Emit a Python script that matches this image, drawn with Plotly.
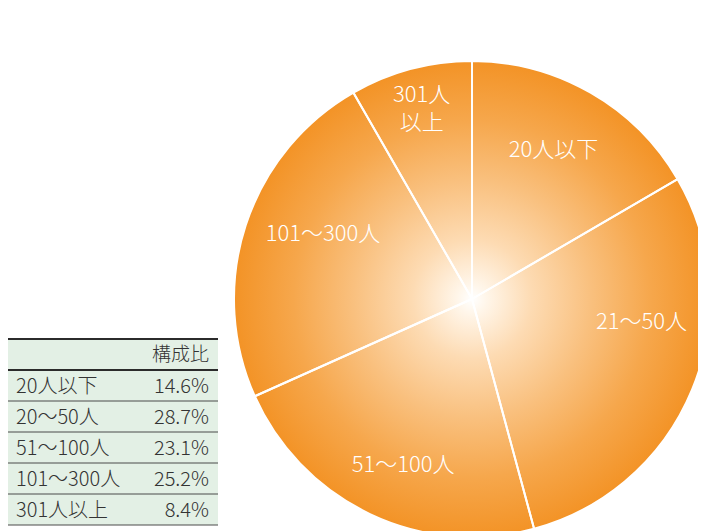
import numpy as np
import plotly.graph_objects as go

# ---------------- data ----------------
pie_labels = ['20人以下', '21～50人', '51～100人', '101～300人', '301人<br>以上']
pie_share = [16.6, 29.2, 22.5, 23.4, 8.3]          # slice sizes as drawn in the picture (%)

table_header = ['', '構成比']
table_categories = ['20人以下', '20～50人', '51～100人', '101～300人', '301人以上']
table_share = [14.6, 28.7, 23.1, 25.2, 8.4]         # 構成比 (%)

# ---------------- style ----------------
W, H = 706, 531
CX, CY, R = 464, 291, 238            # pie centre / radius in figure pixels (CY from top)
FONT = 'Noto Sans CJK JP'
GREEN = '#e3f0e5'
label_r = [0.71, 0.72, 0.76, 0.68, 0.82]          # radial position of labels (fraction of R)
label_dtheta = [-1, -14, -3, 5, 0]                 # angular nudge of labels (deg)
grad = [[0.0, '#ffffff'], [0.06, '#fff6ea'], [0.25, '#fddbb3'],
        [0.5, '#f9c07e'], [0.75, '#f6a74c'], [1.0, '#f39326']]

fig = go.Figure()

# radial gradient disc behind the pie
t = np.linspace(0, 2 * np.pi, 721)
fig.add_trace(go.Scatter(
    x=CX + R * np.cos(t), y=(H - CY) + R * np.sin(t),
    mode='lines', fill='toself', line=dict(width=0),
    fillgradient=dict(type='radial', colorscale=grad),
    hoverinfo='skip', showlegend=False))

# pie slices (transparent fill, white separators)
fig.add_trace(go.Pie(
    values=pie_share, labels=[l.replace('<br>', '') for l in pie_labels],
    sort=False, direction='clockwise', rotation=0,
    marker=dict(colors=['rgba(0,0,0,0)'] * len(pie_share), line=dict(color='white', width=2)),
    textinfo='none', hoverinfo='label+percent', showlegend=False,
    domain=dict(x=[(CX - R) / W, (CX + R) / W], y=[(H - CY - R) / H, (H - CY + R) / H])))

# slice labels placed from cumulative shares
tot = float(sum(pie_share))
cum = np.cumsum([0] + pie_share) / tot * 360.0
mid = (cum[:-1] + cum[1:]) / 2 + np.array(label_dtheta)
rad = np.deg2rad(mid)
lx = CX + R * np.array(label_r) * np.sin(rad)
ly = (H - CY) + R * np.array(label_r) * np.cos(rad)
fig.add_trace(go.Scatter(
    x=lx, y=ly, mode='text', text=pie_labels,
    textfont=dict(family=FONT, size=22, color='white', weight=300),
    hoverinfo='skip', showlegend=False))

# table
T_TOP, ROW_H = 331, 31
T_X0, T_X1 = 0, 210
n_rows = len(table_categories)
t_bottom = T_TOP + ROW_H * (n_rows + 1)
fig.add_trace(go.Table(
    domain=dict(x=[T_X0 / W, T_X1 / W], y=[1 - t_bottom / H, 1 - T_TOP / H]),
    columnwidth=[130, 80],
    header=dict(values=table_header, fill_color=GREEN, line=dict(color=GREEN, width=1),
                align=['left', 'right'], height=ROW_H,
                font=dict(family=FONT, size=19, color='#333333', weight=300)),
    cells=dict(values=[table_categories, [f'{v:.1f}%' for v in table_share]],
               fill_color=GREEN, line=dict(color=GREEN, width=1),
               align=['left', 'right'], height=ROW_H,
               font=dict(family=FONT, size=20, color='#333333', weight=300))))

shapes = []
for k in range(n_rows + 2):
    y = T_TOP + ROW_H * k
    wdt = 2 if k < 2 else 1
    col = '#2b2b2b' if k < 2 else '#4a4a4a'
    shapes.append(dict(type='line', xref='paper', yref='paper',
                       x0=T_X0 / W, x1=T_X1 / W, y0=1 - y / H, y1=1 - y / H,
                       line=dict(color=col, width=wdt)))

fig.update_layout(
    width=W, height=H, margin=dict(l=0, r=0, t=0, b=0),
    paper_bgcolor='white', plot_bgcolor='white',
    xaxis=dict(range=[0, W], visible=False, fixedrange=True),
    yaxis=dict(range=[0, H], visible=False, fixedrange=True),
    shapes=shapes, showlegend=False)

fig.write_html('out.html')
